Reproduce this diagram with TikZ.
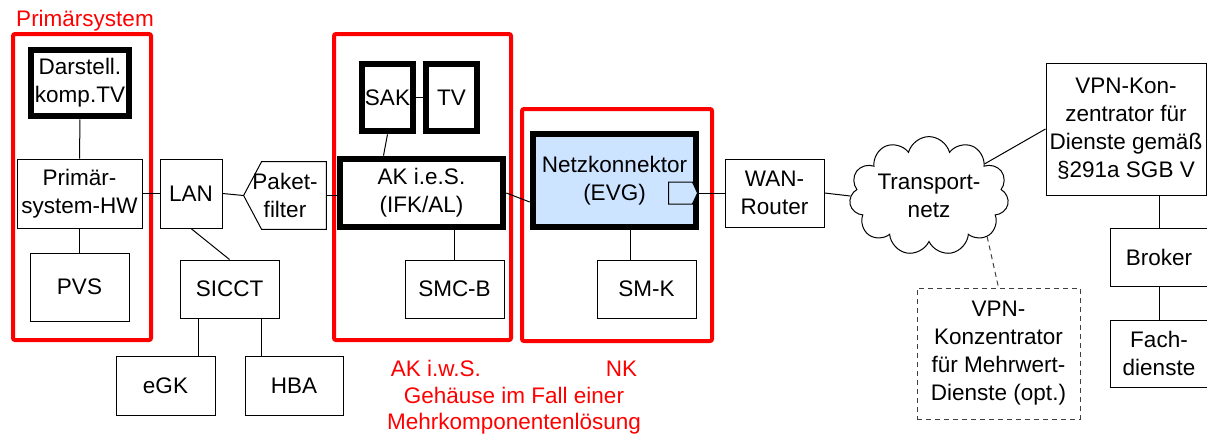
\documentclass[tikz,border=0pt]{standalone}
\usepackage{fontspec}
\setmainfont{Liberation Sans}
\usetikzlibrary{shapes.symbols,positioning,calc}
\definecolor{nkblue}{RGB}{204,228,255}

\begin{document}
\begin{tikzpicture}[x=0.5pt, y=-0.5pt,
  every node/.style={font=\fontsize{11.25}{14}\selectfont, inner sep=0pt},
  box/.style={draw, line width=0.5pt, align=center, minimum width=49.5pt, minimum height=29pt},
  thickbox/.style={box, line width=3.3pt},
  grp/.style={draw=red, line width=2pt, rounded corners=1pt},
  lbl/.style={text=red, align=center},
  link/.style={line width=0.5pt}
]
\useasboundingbox (0,0) rectangle (1207,434);

% Primaersystem
\draw[grp] (13,34) rectangle (151,340);
\node[lbl, anchor=base] (primlbl) at (85,26.7) {Primärsystem};
\node[thickbox, minimum width=49pt, minimum height=33pt] (dar) at (80,83) {Darstell.\\komp.TV};
\node[box, minimum width=62.5pt, minimum height=34.5pt] (hw) at (79.5,193.5) {Primär-\\system-HW};
\node[box, minimum height=34pt] (pvs) at (79.5,287) {PVS};

% LAN side
\node[box, minimum width=31pt, minimum height=34.5pt] (lan) at (191,193.5) {LAN};
\node[align=center, minimum width=41pt, minimum height=33.5pt] (pf) at (285,195.5) {Paket-\\filter};
\draw[link] ([xshift=9pt]pf.north west) -- (pf.north east) -- (pf.south east)
  -- ([xshift=9pt]pf.south west) -- (pf.west) -- cycle;
\node[box] (sicct) at (229.5,289) {SICCT};
\node[box, minimum height=29.5pt] (egk) at (165.5,385.5) {eGK};
\node[box, minimum width=49pt, minimum height=29.5pt] (hba) at (294,385.5) {HBA};

% AK
\draw[grp] (334,34) rectangle (511,340);
\node[thickbox, minimum width=25.5pt, minimum height=33.5pt] (sak) at (387.5,97.5) {SAK};
\node[thickbox, minimum width=25.5pt, minimum height=33.5pt] (tv) at (451.5,97.5) {TV};
\node[thickbox, minimum width=81.5pt, minimum height=34pt] (ak) at (421.5,193) {AK i.e.S.\\(IFK/AL)};
\node[box] (smcb) at (454.5,289) {SMC-B};

% NK
\draw[grp] (522,109) rectangle (712,341);
\node[thickbox, fill=nkblue, minimum width=81.5pt, minimum height=46.5pt] (nk) at (614.5,180.5) {Netzkonnektor\\(EVG)};
\node[signal, signal to=east, signal pointer angle=130, draw, line width=0.5pt, fill=nkblue,
  minimum width=14.5pt, minimum height=11pt] (port) at (680.5,193) {};
\node[box] (smk) at (646.5,289) {SM-K};
\node[lbl, anchor=north, font=\fontsize{11.25}{13.25}\selectfont] (aklbl) at (514,360)
  {AK i.w.S.\hspace{5.56em}NK\\Gehäuse im Fall einer\\Mehrkomponentenlösung};

% WAN side
\node[box, minimum height=34pt] (wan) at (774.5,193) {WAN-\\Router};
\node[cloud, cloud puffs=11, aspect=1.6, draw, line width=0.5pt, align=center,
  minimum width=79pt, minimum height=49pt] (tnetz) at (929,196) {Transport-\\netz};
\node[box, minimum width=80pt, minimum height=66pt] (vpn) at (1126,129) {VPN-Kon-\\zentrator für\\Dienste gemäß\\§291a SGB V};
\node[box, minimum width=49pt] (broker) at (1159,257) {Broker};
\node[box, minimum width=49pt, minimum height=33.5pt] (fach) at (1159,353.5) {Fach-\\dienste};
\node[box, draw=black!75, dash pattern=on 2.5pt off 2pt, minimum width=81.5pt, minimum height=65.5pt] (mw) at (998.5,353.5)
  {VPN-\\Konzentrator\\für Mehrwert-\\Dienste (opt.)};

% connectors
\draw[link] (dar) -- (hw);
\draw[link] (hw) -- (pvs);
\draw[link] (hw) -- (lan);
\draw[link] (lan.east) -- (pf.west);
\draw[link] (lan.south) -- (sicct.north);
\draw[link] ([xshift=-15.75pt]sicct.south) -- ([xshift=-15.75pt]sicct.south |- egk.north);
\draw[link] ([xshift=15.75pt]sicct.south) -- ([xshift=15.75pt]sicct.south |- hba.north);
\draw[link] (pf.east) -- (pf.east -| ak.west);
\draw[link] (sak) -- (tv);
\draw[link] (sak.south) -- ([xshift=-19pt]ak.north);
\draw[link] (smcb.north |- ak.south) -- (smcb.north);
\draw[link] (ak.east) -- ([yshift=-10.75pt]nk.west);
\draw[link] ([xshift=7.75pt]nk.south) -- ([xshift=7.75pt]nk.south |- smk.north);
\draw[link] (port.east) -- (wan.west);
\draw[link] (wan.east) -- (tnetz.west);
\draw[link] (tnetz.30) -- (vpn.west);
\draw[link] (broker.north |- vpn.south) -- (broker.north);
\draw[link] (broker) -- (fach);
\draw[link, draw=black!75, dash pattern=on 2.5pt off 2pt] (tnetz.-35) -- (mw.north);
\end{tikzpicture}
\end{document}
